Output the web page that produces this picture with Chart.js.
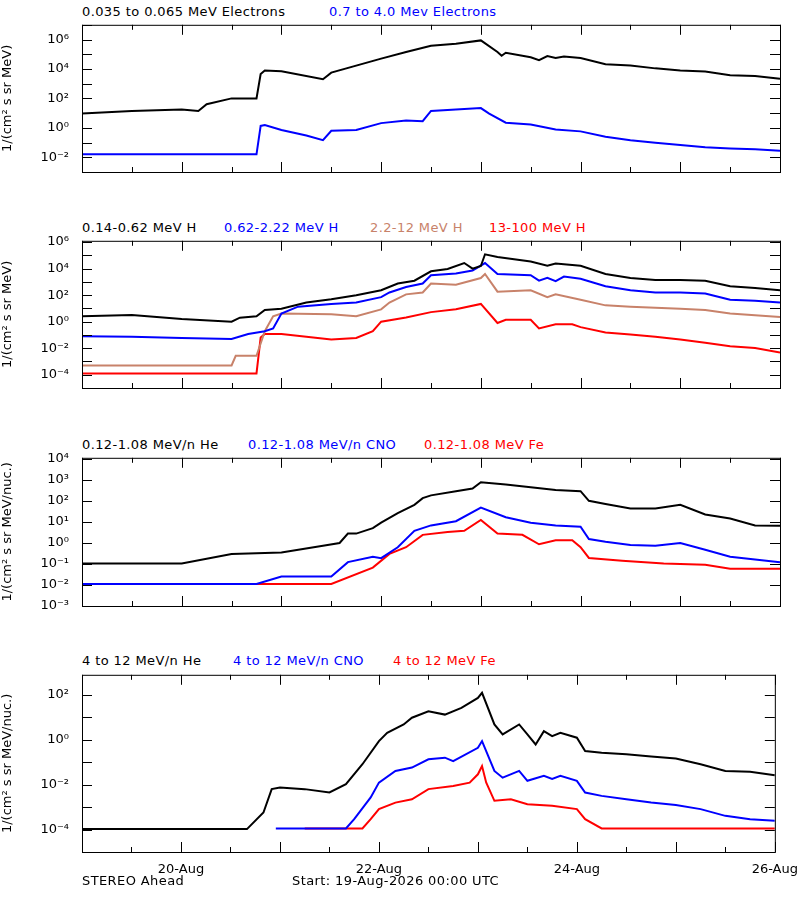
<!DOCTYPE html>
<html>
<head>
<meta charset="utf-8">
<script src="https://cdn.jsdelivr.net/npm/chart.js@4"></script>
<style>
    body { margin: 0; background: #fff; width: 800px; height: 900px; position: relative; overflow: hidden;
           font-family: "DejaVu Sans", sans-serif; font-size: 13px; }
    .title { position: absolute; white-space: pre; letter-spacing: 0.4px; }
    .wrap { position: absolute; left: 0; width: 800px; }
    .foot { position: absolute; top: 873px; letter-spacing: 0.4px; }
</style>
</head>
<body>
<div class="title" style="top:4px;left:82px">0.035 to 0.065 MeV Electrons</div>
<div class="title" style="top:4px;left:329px;color:#0000ff">0.7 to 4.0 Mev Electrons</div>
<div class="title" style="top:220px;left:82px">0.14-0.62 MeV H</div>
<div class="title" style="top:220px;left:224px;color:#0000ff">0.62-2.22 MeV H</div>
<div class="title" style="top:220px;left:370px;color:#c8826a">2.2-12 MeV H</div>
<div class="title" style="top:220px;left:489px;color:#ff0000">13-100 MeV H</div>
<div class="title" style="top:437px;left:82px">0.12-1.08 MeV/n He</div>
<div class="title" style="top:437px;left:248px;color:#0000ff">0.12-1.08 MeV/n CNO</div>
<div class="title" style="top:437px;left:424px;color:#ff0000">0.12-1.08 MeV Fe</div>
<div class="title" style="top:653px;left:82px">4 to 12 MeV/n He</div>
<div class="title" style="top:653px;left:233px;color:#0000ff">4 to 12 MeV/n CNO</div>
<div class="title" style="top:653px;left:393px;color:#ff0000">4 to 12 MeV Fe</div>
<div class="wrap" style="top:12px;height:200px"><canvas id="p1"></canvas></div>
<div class="wrap" style="top:228px;height:200px"><canvas id="p2"></canvas></div>
<div class="wrap" style="top:445px;height:201px"><canvas id="p3"></canvas></div>
<div class="wrap" style="top:662px;height:220px"><canvas id="p4"></canvas></div>
<div class="foot" style="left:82px">STEREO Ahead</div>
<div class="foot" style="left:292px">Start: 19-Aug-2026 00:00 UTC</div>
<script>
// Series as [hour since 19-Aug 00:00, log10(flux)] pairs
const eLow = [[0,0.97],[12,1.15],[24,1.25],[28,1.15],[30,1.6],[36,2.0],[42,2.0],[43,3.65],[44,3.9],[48,3.85],[58,3.3],[60,3.75],[72,4.7],[78,5.15],[84,5.57],[90,5.72],[96,5.94],[100,5.15],[101,4.9],[102,5.1],[108,4.8],[110,4.6],[112,4.88],[114,4.75],[116,4.85],[120,4.75],[126,4.32],[132,4.23],[138,4.04],[144,3.9],[150,3.82],[156,3.57],[162,3.52],[168,3.33]];
const eHigh = [[0,-1.8],[12,-1.8],[24,-1.8],[36,-1.8],[42,-1.8],[43,0.13],[44,0.19],[48,-0.15],[54,-0.52],[58,-0.84],[60,-0.2],[66,-0.15],[72,0.32],[78,0.5],[82,0.45],[84,1.15],[90,1.25],[96,1.34],[98,0.97],[102,0.35],[108,0.22],[114,-0.11],[120,-0.24],[126,-0.61],[132,-0.84],[138,-1.02],[144,-1.17],[150,-1.32],[156,-1.4],[162,-1.45],[168,-1.55]];

const hLow = [[0,0.41],[12,0.5],[24,0.2],[36,0],[38,0.3],[42,0.4],[44,0.88],[48,0.97],[54,1.44],[60,1.69],[66,2.0],[72,2.37],[76,2.88],[80,3.09],[84,3.8],[88,3.97],[92,4.42],[94,4.0],[96,4.2],[97,5.08],[100,4.88],[108,4.53],[112,4.22],[114,4.38],[120,4.22],[126,3.6],[132,3.29],[138,3.15],[144,3.15],[150,3.09],[156,2.67],[162,2.53],[168,2.37]];
const hMid = [[0,-1.09],[12,-1.13],[24,-1.23],[36,-1.3],[40,-0.93],[44,-0.72],[46,-0.51],[48,0.62],[52,1.13],[60,1.34],[66,1.44],[72,1.85],[74,2.2],[78,2.61],[82,2.88],[84,3.5],[90,3.64],[94,3.85],[97,4.42],[100,3.6],[108,3.5],[110,3.09],[112,3.3],[114,3.05],[116,3.4],[120,3.23],[126,2.67],[132,2.37],[138,2.2],[144,2.2],[150,2.12],[156,1.65],[162,1.58],[168,1.44]];
const hHigh = [[0,-3.3],[12,-3.3],[24,-3.3],[36,-3.3],[37,-2.57],[42,-2.57],[44,-0.72],[46,0.41],[48,0.62],[60,0.56],[66,0.41],[72,0.93],[74,1.44],[78,2.06],[82,2.2],[84,2.88],[90,2.78],[96,3.29],[97,3.6],[100,2.26],[108,2.37],[112,1.85],[114,2.06],[120,1.65],[126,1.23],[132,1.13],[144,0.97],[150,0.88],[156,0.62],[168,0.35]];
const hTop = [[0,-3.9],[12,-3.9],[24,-3.9],[36,-3.9],[42,-3.9],[43,-1.2],[44,-0.93],[48,-0.93],[54,-1.13],[60,-1.34],[66,-1.23],[70,-0.72],[72,0],[78,0.31],[84,0.72],[90,0.93],[96,1.34],[100,-0.1],[102,0.14],[108,0.14],[110,-0.51],[114,-0.2],[118,-0.2],[120,-0.41],[126,-0.82],[132,-0.97],[138,-1.13],[144,-1.34],[150,-1.58],[156,-1.85],[162,-1.99],[168,-2.33]];

const heLow = [[0,-0.97],[12,-0.97],[24,-0.97],[36,-0.52],[48,-0.45],[58,-0.13],[62,0],[64,0.45],[66,0.45],[70,0.71],[72,0.97],[76,1.43],[80,1.82],[82,2.14],[84,2.27],[90,2.47],[94,2.6],[96,2.9],[102,2.79],[108,2.66],[114,2.53],[120,2.47],[122,2.01],[126,1.86],[132,1.65],[138,1.65],[144,1.82],[150,1.36],[156,1.17],[162,0.84],[168,0.82]];
const cnoLow = [[0,-1.95],[12,-1.95],[24,-1.95],[36,-1.95],[42,-1.95],[48,-1.6],[60,-1.6],[64,-0.91],[70,-0.65],[72,-0.72],[76,-0.2],[80,0.58],[84,0.84],[90,1.04],[96,1.69],[102,1.23],[108,0.97],[114,0.84],[120,0.78],[122,0.19],[126,0.06],[132,-0.09],[138,-0.13],[144,0],[150,-0.32],[156,-0.65],[162,-0.78],[168,-0.91]];
const feLow = [[0,-1.95],[12,-1.95],[24,-1.95],[36,-1.95],[48,-1.95],[60,-1.95],[70,-1.17],[74,-0.52],[78,-0.2],[82,0.39],[88,0.52],[92,0.58],[96,1.1],[100,0.45],[106,0.39],[110,-0.06],[114,0.13],[118,0.13],[120,-0.2],[122,-0.71],[130,-0.84],[140,-0.97],[150,-1.04],[156,-1.23],[168,-1.23]];

const heHigh = [[0,-3.98],[12,-3.98],[24,-3.98],[36,-3.98],[40,-3.98],[44,-3.24],[46,-2.2],[48,-2.13],[54,-2.2],[60,-2.35],[64,-1.98],[68,-1.09],[72,-0.06],[74,0.31],[78,0.68],[80,0.98],[84,1.27],[88,1.12],[92,1.42],[96,1.86],[97,2.09],[100,0.68],[102,0.24],[106,0.68],[108,0.24],[110,-0.21],[112,0.38],[114,0.16],[116,0.31],[120,0.09],[122,-0.5],[126,-0.58],[132,-0.65],[138,-0.75],[144,-0.84],[150,-1.09],[156,-1.39],[162,-1.43],[168,-1.58]];
const cnoHigh = [[47,-3.95],[56,-3.95],[64,-3.95],[66,-3.54],[70,-2.57],[72,-1.91],[76,-1.39],[80,-1.24],[84,-0.87],[88,-0.8],[90,-0.95],[96,-0.36],[97,-0.06],[100,-1.39],[102,-1.69],[106,-1.39],[108,-1.83],[112,-1.61],[114,-1.75],[116,-1.61],[120,-1.83],[122,-2.35],[126,-2.5],[132,-2.65],[138,-2.8],[144,-2.91],[150,-3.09],[156,-3.39],[162,-3.54],[168,-3.61]];
const feHigh = [[54,-3.95],[68,-3.95],[70,-3.54],[72,-3.09],[76,-2.8],[80,-2.65],[84,-2.2],[90,-2.06],[94,-1.91],[96,-1.54],[97,-1.17],[98,-1.9],[100,-2.72],[104,-2.65],[108,-2.87],[114,-2.94],[120,-3.09],[122,-3.54],[126,-3.95],[168,-3.95]];

const dayTicks = ['19-Aug', '20-Aug', '21-Aug', '22-Aug', '23-Aug', '24-Aug', '25-Aug', '26-Aug'];
const shownDays = ['20-Aug', '22-Aug', '24-Aug', '26-Aug'];

const BLACK = '#000000', BLUE = '#0000ff', BROWN = '#c8826a', RED = '#ff0000';
const SUP = { '-': '⁻', '0': '⁰', '1': '¹', '2': '²', '3': '³', '4': '⁴', '5': '⁵', '6': '⁶', '7': '⁷', '8': '⁸', '9': '⁹' };

// Frame + inward tick marks, like the IDL plot
const framePlugin = {
    id: 'frame',
    afterDraw(chart) {
        const { ctx, chartArea: a, scales } = chart;
        ctx.save();
        ctx.strokeStyle = '#000';
        ctx.lineWidth = 1;
        ctx.strokeRect(a.left + 0.5, a.top + 0.5, a.right - a.left, a.bottom - a.top);
        ctx.beginPath();
        for (let h = 0; h <= 168; h += 12) {
            const x = Math.round(scales.x.getPixelForValue(h)) + 0.5;
            const len = h % 24 === 0 ? 10 : 5;
            ctx.moveTo(x, a.bottom); ctx.lineTo(x, a.bottom - len);
            ctx.moveTo(x, a.top); ctx.lineTo(x, a.top + len);
        }
        scales.y.ticks.forEach(t => {
            const y = Math.round(scales.y.getPixelForValue(t.value)) + 0.5;
            ctx.moveTo(a.left, y); ctx.lineTo(a.left + 10, y);
            ctx.moveTo(a.right, y); ctx.lineTo(a.right - 10, y);
        });
        ctx.stroke();
        ctx.restore();
    }
};

function makeDataset(series, color) {
    return {
        data: series.map(([t, v]) => ({ x: t, y: Math.pow(10, v) })),
        borderColor: color,
        backgroundColor: color,
        borderWidth: 2,
        pointRadius: 0,
        tension: 0
    };
}

function renderPanel(id, datasets, yMin, yMax, labelStep, yTitle, showX) {
    new Chart(document.getElementById(id).getContext('2d'), {
        type: 'line',
        data: { datasets },
        plugins: [framePlugin],
        options: {
            responsive: true,
            maintainAspectRatio: false,
            animation: false,
            layout: { padding: { top: 10, right: 20, bottom: showX ? 0 : 10, left: 0 } },
            plugins: { legend: { display: false }, tooltip: { enabled: false } },
            scales: {
                x: {
                    type: 'linear', min: 0, max: 168,
                    display: showX,
                    grid: { display: false },
                    border: { display: false },
                    afterBuildTicks: s => { s.ticks = dayTicks.map((d, i) => ({ value: i * 24 })); },
                    afterFit: s => { s.height = 30; },
                    ticks: {
                        color: '#000', maxRotation: 0, autoSkip: false, padding: 2,
                        font: { family: 'DejaVu Sans', size: 13 },
                        callback: v => { const d = dayTicks[v / 24]; return shownDays.includes(d) ? d : ''; }
                    }
                },
                y: {
                    type: 'logarithmic', min: yMin, max: yMax,
                    grid: { display: false },
                    border: { display: false },
                    afterBuildTicks: s => {
                        const ticks = [];
                        for (let e = Math.ceil(Math.log10(yMin) - 1e-9); e <= Math.log10(yMax) + 1e-9; e++) {
                            ticks.push({ value: Math.pow(10, e) });
                        }
                        s.ticks = ticks;
                    },
                    afterFit: s => { s.width = 82; },
                    title: { display: true, text: yTitle, color: '#000', font: { family: 'DejaVu Sans', size: 13 }, padding: 0 },
                    ticks: {
                        color: '#000', padding: 5, autoSkip: false,
                        font: { family: 'DejaVu Sans', size: 13 },
                        callback: v => {
                            const e = Math.round(Math.log10(v));
                            if (e % labelStep !== 0) return '';
                            return '10' + String(e).split('').map(c => SUP[c]).join('');
                        }
                    }
                }
            }
        }
    });
}

renderPanel('p1', [makeDataset(eLow, BLACK), makeDataset(eHigh, BLUE)],
    1e-3, 1e7, 2, '1/(cm² s sr MeV)', false);
renderPanel('p2', [makeDataset(hLow, BLACK), makeDataset(hMid, BLUE), makeDataset(hHigh, BROWN), makeDataset(hTop, RED)],
    1e-5, 1.25e6, 2, '1/(cm² s sr MeV)', false);
renderPanel('p3', [makeDataset(heLow, BLACK), makeDataset(cnoLow, BLUE), makeDataset(feLow, RED)],
    1e-3, 1.15e4, 1, '1/(cm² s sr MeV/nuc.)', false);
renderPanel('p4', [makeDataset(heHigh, BLACK), makeDataset(cnoHigh, BLUE), makeDataset(feHigh, RED)],
    1e-5, 7.8e2, 2, '1/(cm² s sr MeV/nuc.)', true);
</script>
</body>
</html>
